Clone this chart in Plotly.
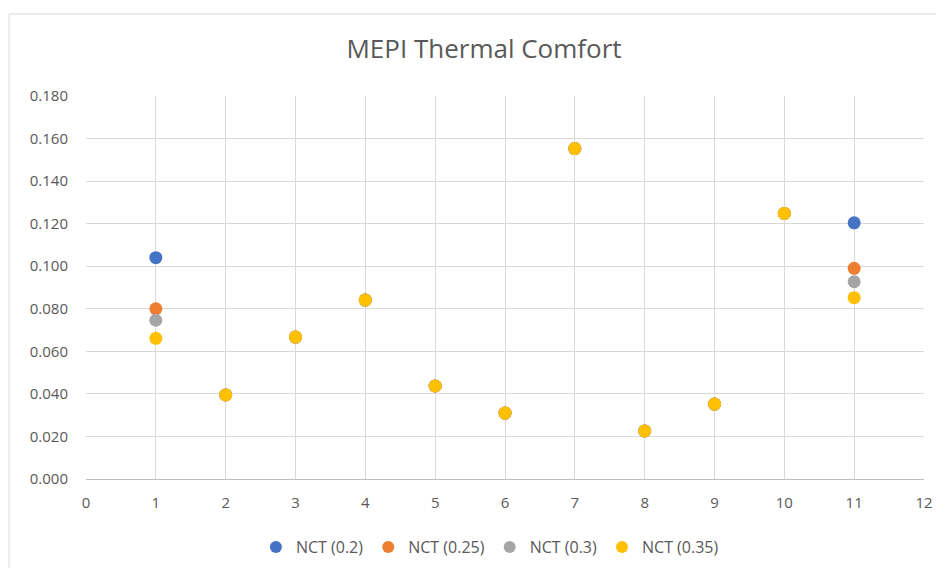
import plotly.graph_objects as go

x_vals = [1, 2, 3, 4, 5, 6, 7, 8, 9, 10, 11]
series_names = ["NCT (0.2)", "NCT (0.25)", "NCT (0.3)", "NCT (0.35)"]
nct_02 = [0.104, 0.0395, 0.0667, 0.0841, 0.0437, 0.0310, 0.1553, 0.0226, 0.0352, 0.1248, 0.1204]
nct_025 = [0.0800, 0.0395, 0.0667, 0.0841, 0.0437, 0.0310, 0.1553, 0.0226, 0.0352, 0.1248, 0.0990]
nct_03 = [0.0746, 0.0395, 0.0667, 0.0841, 0.0437, 0.0310, 0.1553, 0.0226, 0.0352, 0.1248, 0.0927]
nct_035 = [0.0661, 0.0395, 0.0667, 0.0841, 0.0437, 0.0310, 0.1553, 0.0226, 0.0352, 0.1248, 0.0852]
colors = ["#4472C4", "#ED7D31", "#A5A5A5", "#FFC000"]
x_ticks = list(range(0, 13))
y_ticks = [0.0, 0.02, 0.04, 0.06, 0.08, 0.10, 0.12, 0.14, 0.16, 0.18]

fig = go.Figure()
for name, vals, col in zip(series_names, [nct_02, nct_025, nct_03, nct_035], colors):
    fig.add_trace(go.Scatter(x=x_vals, y=vals, mode="markers", name=name,
                             marker=dict(color=col, size=13, line=dict(width=0))))

font_family = "Open Sans, Liberation Sans, sans-serif"
fig.update_layout(
    width=936, height=560,
    paper_bgcolor="white", plot_bgcolor="white",
    margin=dict(l=78, r=20, t=88, b=89),
    title=dict(text="MEPI Thermal Comfort", x=(484-8)/936, xanchor="center", y=1 - 41/560, yanchor="middle",
               font=dict(family=font_family, size=26, color="#595959")),
    font=dict(family=font_family, size=15, color="#595959"),
    xaxis=dict(range=[0, 12], tickvals=x_ticks, ticktext=[str(t) for t in x_ticks],
               showgrid=True, gridcolor="#D9D9D9", gridwidth=1, zeroline=False,
               showline=True, linecolor="#BFBFBF", ticks="", ticklabelstandoff=10,
               tickfont=dict(size=15, color="#595959")),
    yaxis=dict(range=[0, 0.18], tickvals=y_ticks, ticktext=[f"{v:.3f}" for v in y_ticks],
               showgrid=True, gridcolor="#D9D9D9", gridwidth=1, zeroline=False,
               showline=False, ticks="", ticklabelstandoff=17,
               tickfont=dict(size=15, color="#595959")),
    legend=dict(orientation="h", x=0.482, xanchor="center",
                yref="container", y=1 - 539/560, yanchor="middle",
                font=dict(size=16, color="#595959"), itemsizing="constant",
                tracegroupgap=0),
    showlegend=True,
    shapes=[dict(type="rect", xref="paper", yref="paper",
                 x0=(9-86)/838, x1=1.05, y0=-0.3, y1=(479-14)/383,
                 line=dict(color="#D9D9D9", width=1), layer="below")],
)
fig.write_html("out.html")
